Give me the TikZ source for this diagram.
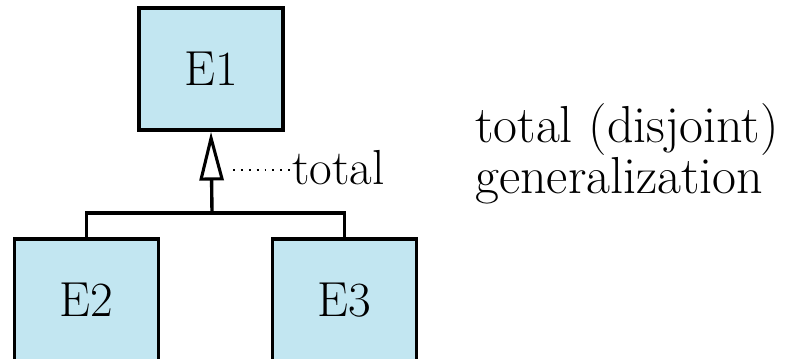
\documentclass[tikz,border=0pt]{standalone}
\usepackage{fontspec}
\usetikzlibrary{arrows.meta}
\definecolor{entblue}{RGB}{194,230,241}
\tikzset{
  entity/.style={draw, line width=2.4pt, fill=entblue, minimum width=3.6cm,
    minimum height=3.05cm, inner sep=0pt, font=\fontsize{35}{30}\selectfont},
  conn/.style={line width=2.4pt},
  label/.style={font=\fontsize{35}{30}\selectfont, inner sep=0pt}
}
\begin{document}
\begin{tikzpicture}[x=0.025cm,y=-0.025cm]
\useasboundingbox (0,0) rectangle (793,359);

% ---------- E1 ----------
\node[entity] (E1) at (211,69) {E1};

% ---------- E2 and E3 ----------
\node[entity] (E2) at (86.5,300) {E2};
\node[entity] (E3) at (344.5,300) {E3};

% ---------- generalization ----------
\coordinate (jn) at (212,213);
\draw[conn] (E2.north) |- (jn) -| (E3.north);
\draw[conn, -{Triangle[open, length=1.22cm, width=0.6cm, line width=2.2pt]}] (jn) -- (E1.south);

% ---------- total ----------
\node[label, anchor=west] (total) at (292,168) {total};
\coordinate (dots) at (233,170);
\draw[line width=1.6pt, dash pattern=on 1.4pt off 4.2pt] (dots) -- (total.west |- dots);

% ---------- caption ----------
\node[label, anchor=west, align=left, font=\fontsize{37}{30}\selectfont] (caption) at (475,154) {total (disjoint)\\generalization};

\end{tikzpicture}
\end{document}
